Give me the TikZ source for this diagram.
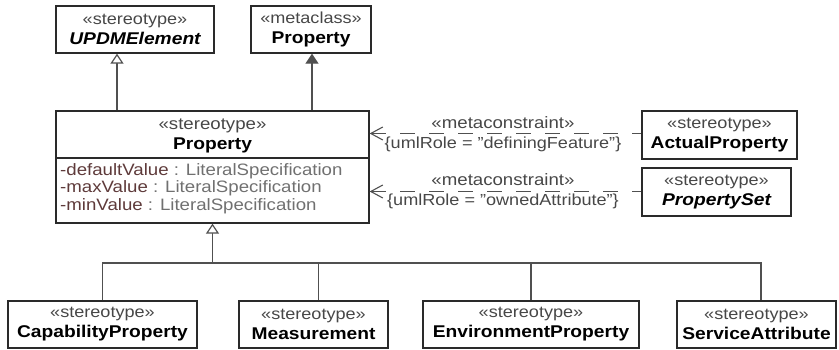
\documentclass[tikz,border=0pt]{standalone}
\usepackage{fontspec}
\setmainfont{Liberation Sans}[FakeStretch=1.13]
\usetikzlibrary{arrows.meta}
\definecolor{boxc}{HTML}{2A2A2A}
\definecolor{linec}{HTML}{505050}
\definecolor{stc}{HTML}{474747}
\definecolor{attrc}{HTML}{5E3A3A}
\definecolor{typec}{HTML}{707070}
\newcommand{\nm}[1]{{\fontsize{17}{20}\selectfont\bfseries #1}}
\newcommand{\nmi}[1]{{\fontsize{17}{20}\selectfont\bfseries\itshape #1}}
\begin{document}
\begin{tikzpicture}[x=1pt,y=-1pt,
  box/.style={draw=boxc, line width=1.3pt, inner sep=0pt, align=center,
    font=\fontsize{16}{20}\selectfont},
  txt/.style={inner sep=0pt, font=\fontsize{16}{20}\selectfont},
  attr/.style={inner sep=0pt, font=\fontsize{16.5}{18}\selectfont},
  lab/.style={inner sep=0pt, text=stc, font=\fontsize{16.5}{20}\selectfont},
  labs/.style={inner sep=0pt, text=stc, font=\fontsize{16}{18}\selectfont},
  gen/.style={draw=linec, line width=1.2pt,
    -{Triangle[open, length=10pt, width=13pt, line width=1.2pt, fill=white]}},
  metaarr/.style={draw=linec, line width=1.2pt,
    -{Triangle[length=10pt, width=13pt, fill=linec]}},
  dep/.style={draw=linec, line width=1.2pt, dash pattern=on 15pt off 14pt,
    {Straight Barb[length=12pt, width=13pt, line width=1.1pt]}-},
  conn/.style={draw=linec, line width=1.2pt}]
\useasboundingbox (0,0) rectangle (839,350);

% top boxes
\node[box, minimum width=158pt, minimum height=47pt] (upd) at (135,29.5)
  {\color{stc}«stereotype»\\\nmi{UPDMElement}};
\node[box, minimum width=120pt, minimum height=47pt] (mcp) at (311,29.5)
  {\color{stc}«metaclass»\\\nm{Property}};

% main box
\node[draw=boxc, line width=1.3pt, inner sep=0pt, minimum width=313pt, minimum height=112pt] (main) at (212.5,167) {};
\draw[boxc, line width=1.3pt] (main.west |- 0,158) -- (main.east |- 0,158);
\node[lab] (mst) at (212.5,126) {«stereotype»};
\node[txt] (mname) at (212.5,145.5) {\nm{Property}};
\node[attr, anchor=west] (a1) at (60,171) {{\color{attrc}-defaultValue} {\color{typec}: LiteralSpecification}};
\node[attr, anchor=west] (a2) at (60,188.5) {{\color{attrc}-maxValue} {\color{typec}: LiteralSpecification}};
\node[attr, anchor=west] (a3) at (60,206) {{\color{attrc}-minValue} {\color{typec}: LiteralSpecification}};

% right boxes
\node[box, minimum width=155pt, minimum height=48pt] (act) at (719.5,135)
  {\color{stc}«stereotype»\\\nm{ActualProperty}};
\node[box, minimum width=149pt, minimum height=48pt] (pset) at (716.5,192)
  {\color{stc}«stereotype»\\\nmi{PropertySet}};

% bottom boxes
\node[box, minimum width=189pt, minimum height=47pt] (cap) at (102.5,324.5)
  {\color{stc}«stereotype»\\\nm{CapabilityProperty}};
\node[box, minimum width=149pt, minimum height=47pt] (meas) at (313.5,324.5)
  {\color{stc}«stereotype»\\\nm{Measurement}};
\node[box, minimum width=216pt, minimum height=47pt] (env) at (531,324.5)
  {\color{stc}«stereotype»\\\nm{EnvironmentProperty}};
\node[box, minimum width=159pt, minimum height=47pt] (serv) at (756.5,324.5)
  {\color{stc}«stereotype»\\\nm{ServiceAttribute}};

% generalizations at top
\draw[gen] (main.north -| 117,0) -- (upd.south -| 117,0);
\draw[metaarr] (main.north -| 312,0) -- (mcp.south -| 312,0);

% metaconstraints
\coordinate (e1) at ([yshift=1.5pt]act.west);
\coordinate (e2) at ([yshift=0.5pt]pset.west);
\draw[dep] (main.east |- e1) -- (e1);
\node[lab] (mc1) at (503,122.5) {«metaconstraint»};
\node[labs] (r1) at (503,144) {\{umlRole = "definingFeature"\}};
\draw[dep] (main.east |- e2) -- (e2);
\node[lab] (mc2) at (503,179.5) {«metaconstraint»};
\node[labs] (r2) at (503,201) {\{umlRole = "ownedAttribute"\}};

% generalization tree at bottom
\coordinate (bus) at (212.5,263);
\draw[gen] (bus) -- (main.south);
\draw[conn] (cap.north) |- ([xshift=4.5pt]serv.north |- bus) -- ([xshift=4.5pt]serv.north);
\draw[conn] ([xshift=5pt]meas.north) -- ([xshift=5pt]meas.north |- bus);
\draw[conn] (env.north) -- (env.north |- bus);
\end{tikzpicture}
\end{document}
